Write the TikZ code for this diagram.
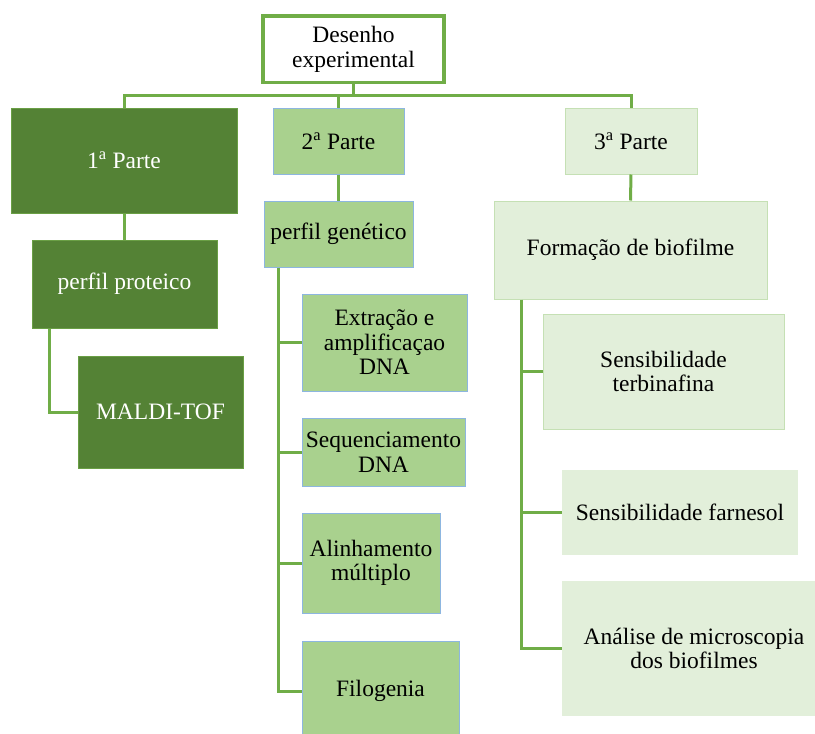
\documentclass[tikz,border=0pt]{standalone}
\usepackage{fontspec}
\setmainfont{Liberation Serif}
\definecolor{gline}{HTML}{70AD47}
\definecolor{gdark}{HTML}{548235}
\definecolor{gdarkbd}{HTML}{6A9F45}
\definecolor{gmid}{HTML}{A9D18E}
\definecolor{bluebd}{HTML}{8DB6E0}
\definecolor{glight}{HTML}{E2EFDA}
\definecolor{glightbd}{HTML}{C5E0B4}
\begin{document}
\begin{tikzpicture}[x=1pt,y=-1pt,
  every node/.style={font=\fontsize{23.5}{24.5}\selectfont, align=center, inner sep=0pt},
  conn/.style={draw=gline, line width=3pt},
  topbox/.style={draw=gline, line width=3.5pt, fill=white, text=black},
  darkbox/.style={draw=gdarkbd, line width=1pt, fill=gdark, text=white},
  midbox/.style={draw=bluebd, line width=1pt, fill=gmid, text=black},
  lightbox/.style={draw=glightbd, line width=1pt, fill=glight, text=black},
  plainbox/.style={fill=glight, text=black}]
\clip (0,0) rectangle (815,734);
\fill[white] (0,0) rectangle (815,734);
% nodes
\node[topbox, minimum width=181, minimum height=66.7] (top) at (353.5,49.3) {Desenho\\experimental};
\node[darkbox, minimum width=226, minimum height=105] (p1) at (124,160.5) {1\textsuperscript{a} Parte};
\node[midbox, minimum width=131, minimum height=66] (p2) at (338.5,141) {2\textsuperscript{a} Parte};
\node[lightbox, minimum width=132, minimum height=66] (p3) at (631,141) {3\textsuperscript{a} Parte};
% column 1
\node[darkbox, minimum width=185, minimum height=88] (pp) at (124.5,284) {perfil proteico};
\node[darkbox, minimum width=165, minimum height=112] (maldi) at (160.5,412) {MALDI-TOF};
% column 2
\node[midbox, minimum width=149, minimum height=66] (pg) at (338.5,234) {perfil genético};
\node[midbox, minimum width=165, minimum height=97] (ext) at (384.5,342.5) {Extração e\\amplificaçao\\DNA};
\node[midbox, minimum width=163, minimum height=68] (seq) at (383.5,452) {Sequenciamento\\DNA};
\node[midbox, minimum width=138, minimum height=100] (ali) at (371,563) {Alinhamento\\múltiplo};
\node[midbox, minimum width=157, minimum height=100] (filo) at (380.5,691) {Filogenia};
% column 3
\node[lightbox, minimum width=273, minimum height=98] (fb) at (630.5,250) {Formação de biofilme};
\node[lightbox, minimum width=241, minimum height=115] (terb) at (663.5,371.5) {Sensibilidade\\terbinafina};
\node[plainbox, minimum width=236, minimum height=85] (farn) at (680,512.5) {Sensibilidade farnesol};
\node[plainbox, minimum width=253, minimum height=135] (ana) at (688.5,648.5) {};
\node at (694,648.5) {Análise de microscopia\\dos biofilmes};
% connectors
\coordinate (bus) at (353.5,95);
\draw[conn] (top.south) -- (bus);
\draw[conn] (bus) -| (p1.north);
\draw[conn] (bus) -| (p3.north);
\draw[conn] (p2.north |- bus) -- (p2.north);
\draw[conn] (p1.south) -- (p1.south |- pp.north);
\draw[conn] ([xshift=18pt]pp.south west) |- (maldi.west);
\draw[conn] (p2.south) -- (pg.north);
\coordinate (bm) at ([xshift=15pt]pg.south west);
\draw[conn] (bm) |- (filo.west);
\draw[conn] (bm |- ext.west) -- (ext.west);
\draw[conn] (bm |- seq.west) -- (seq.west);
\draw[conn] (bm |- ali.west) -- (ali.west);
\draw[conn] (p3.south) -- (fb.north);
\coordinate (br) at ([xshift=28pt]fb.south west);
\draw[conn] (br) |- (ana.west);
\draw[conn] (br |- terb.west) -- (terb.west);
\draw[conn] (br |- farn.west) -- (farn.west);
\end{tikzpicture}
\end{document}
